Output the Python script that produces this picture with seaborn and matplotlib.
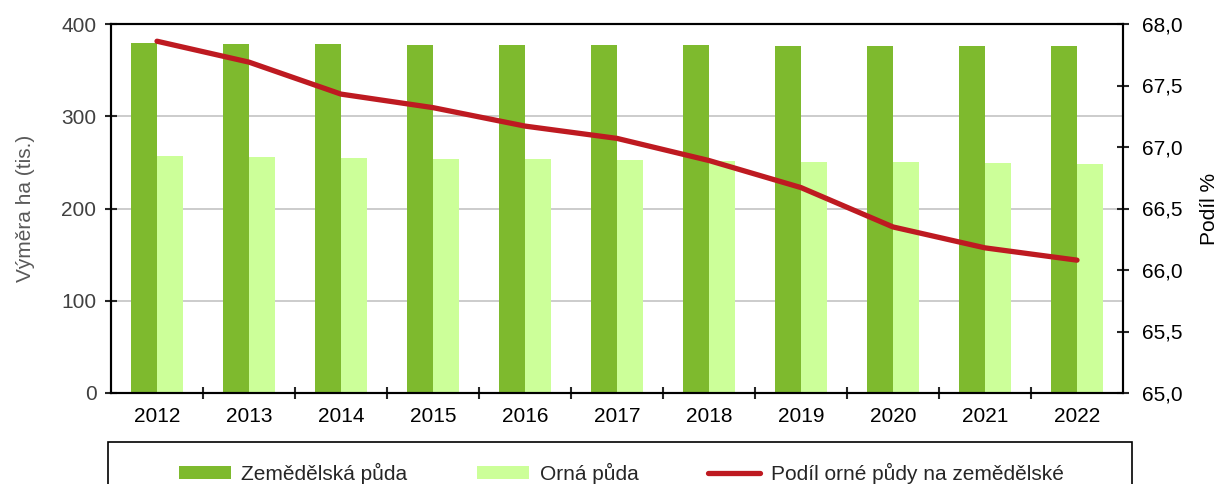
import numpy as np
import pandas as pd
import matplotlib
matplotlib.use("Agg")
import matplotlib.pyplot as plt
import seaborn as sns
from matplotlib.patches import Patch, Rectangle
from matplotlib.lines import Line2D
from matplotlib.ticker import FixedLocator, FuncFormatter

years = ["2012", "2013", "2014", "2015", "2016", "2017", "2018", "2019", "2020", "2021", "2022"]
zemedelska = [379.4, 378.6, 377.9, 377.6, 377.2, 376.9, 376.8, 376.6, 376.5, 376.2, 376.0]
orna = [256.8, 256.3, 254.8, 254.1, 253.4, 252.7, 251.9, 250.8, 250.1, 249.1, 248.3]
podil = [67.86, 67.69, 67.43, 67.32, 67.17, 67.07, 66.89, 66.67, 66.35, 66.18, 66.08]

series_names = ["Zemědělská půda", "Orná půda"]
line_name = "Podíl orné půdy na zemědělské"
c_dark = "#7EBA2E"
c_light = "#CCFF99"
c_red = "#BE1A21"

sns.set_style("white")
plt.rcParams["font.family"] = ["Liberation Sans", "DejaVu Sans"]

df = pd.DataFrame({
    "year": years * 2,
    "series": [series_names[0]] * len(years) + [series_names[1]] * len(years),
    "value": zemedelska + orna,
})

W, H = 1223, 484
fig = plt.figure(figsize=(W / 100, H / 100), dpi=100)
ax = fig.add_axes([111 / W, 1 - 393 / H, (1123 - 111) / W, (393 - 24) / H])

sns.barplot(data=df, x="year", y="value", hue="series", hue_order=series_names,
            palette=[c_dark, c_light], saturation=1, width=0.57, ax=ax,
            legend=False, errorbar=None, linewidth=0, edgecolor="none")

ax.set_ylim(0, 400)
ax.set_yticks([0, 100, 200, 300, 400])
ax.set_xlim(-0.5, len(years) - 0.5)
ax.set_axisbelow(True)
ax.yaxis.grid(True, color="#BFBFBF", linewidth=1.1)
ax.xaxis.grid(False)
ax.set_xlabel("")
ax.set_ylabel("Výměra ha (tis.)", fontsize=15, color="#595959", labelpad=19)
ax.tick_params(axis="y", direction="inout", length=9, width=1.5, labelsize=15,
               labelcolor="#404040", pad=6, left=True)
ax.tick_params(axis="x", which="major", length=0, labelsize=15, labelcolor="black", pad=10)
ax.xaxis.set_minor_locator(FixedLocator(np.arange(0.5, len(years) - 1, 1.0)))
ax.tick_params(axis="x", which="minor", direction="inout", length=9, width=1.5, bottom=True)
for s in ax.spines.values():
    s.set_color("black")
    s.set_linewidth(1.5)

ax2 = ax.twinx()
sns.lineplot(x=np.arange(len(years)), y=podil, ax=ax2, color=c_red, linewidth=3.8,
             solid_capstyle="round", solid_joinstyle="round")
ax2.set_ylim(65, 68)
ax2.set_yticks(np.arange(65, 68.01, 0.5))
ax2.yaxis.set_major_formatter(FuncFormatter(lambda v, p: f"{v:.1f}".replace(".", ",")))
ax2.tick_params(axis="y", direction="inout", length=9, width=1.5, labelsize=15,
                labelcolor="black", pad=9)
ax2.set_ylabel("Podíl %", fontsize=15, color="black", labelpad=13)
ax2.set_xlim(-0.5, len(years) - 0.5)
for s in ax2.spines.values():
    s.set_color("black")
    s.set_linewidth(1.5)

# legend frame (extends below the figure edge, as in the reference)
frame = Rectangle((108 / W, -0.05), (1132 - 108) / W, (1 - 441.7 / H) + 0.05,
                  transform=fig.transFigure, facecolor="none", edgecolor="black",
                  linewidth=1.2)
fig.patches.append(frame)

handles = [Patch(facecolor=c_dark, edgecolor="none"),
           Patch(facecolor=c_light, edgecolor="none"),
           Line2D([0], [0], color=c_red, linewidth=3.8, solid_capstyle="round")]
labels = [series_names[0], series_names[1], line_name]
leg = fig.legend(handles, labels, ncol=3, loc="center",
                 bbox_to_anchor=(621 / W, 1 - 473.5 / H), borderaxespad=0, frameon=False,
                 fontsize=15, handlelength=2.5, handleheight=0.55,
                 handletextpad=0.5, columnspacing=3.35)

fig.savefig("out.png", dpi=100)
